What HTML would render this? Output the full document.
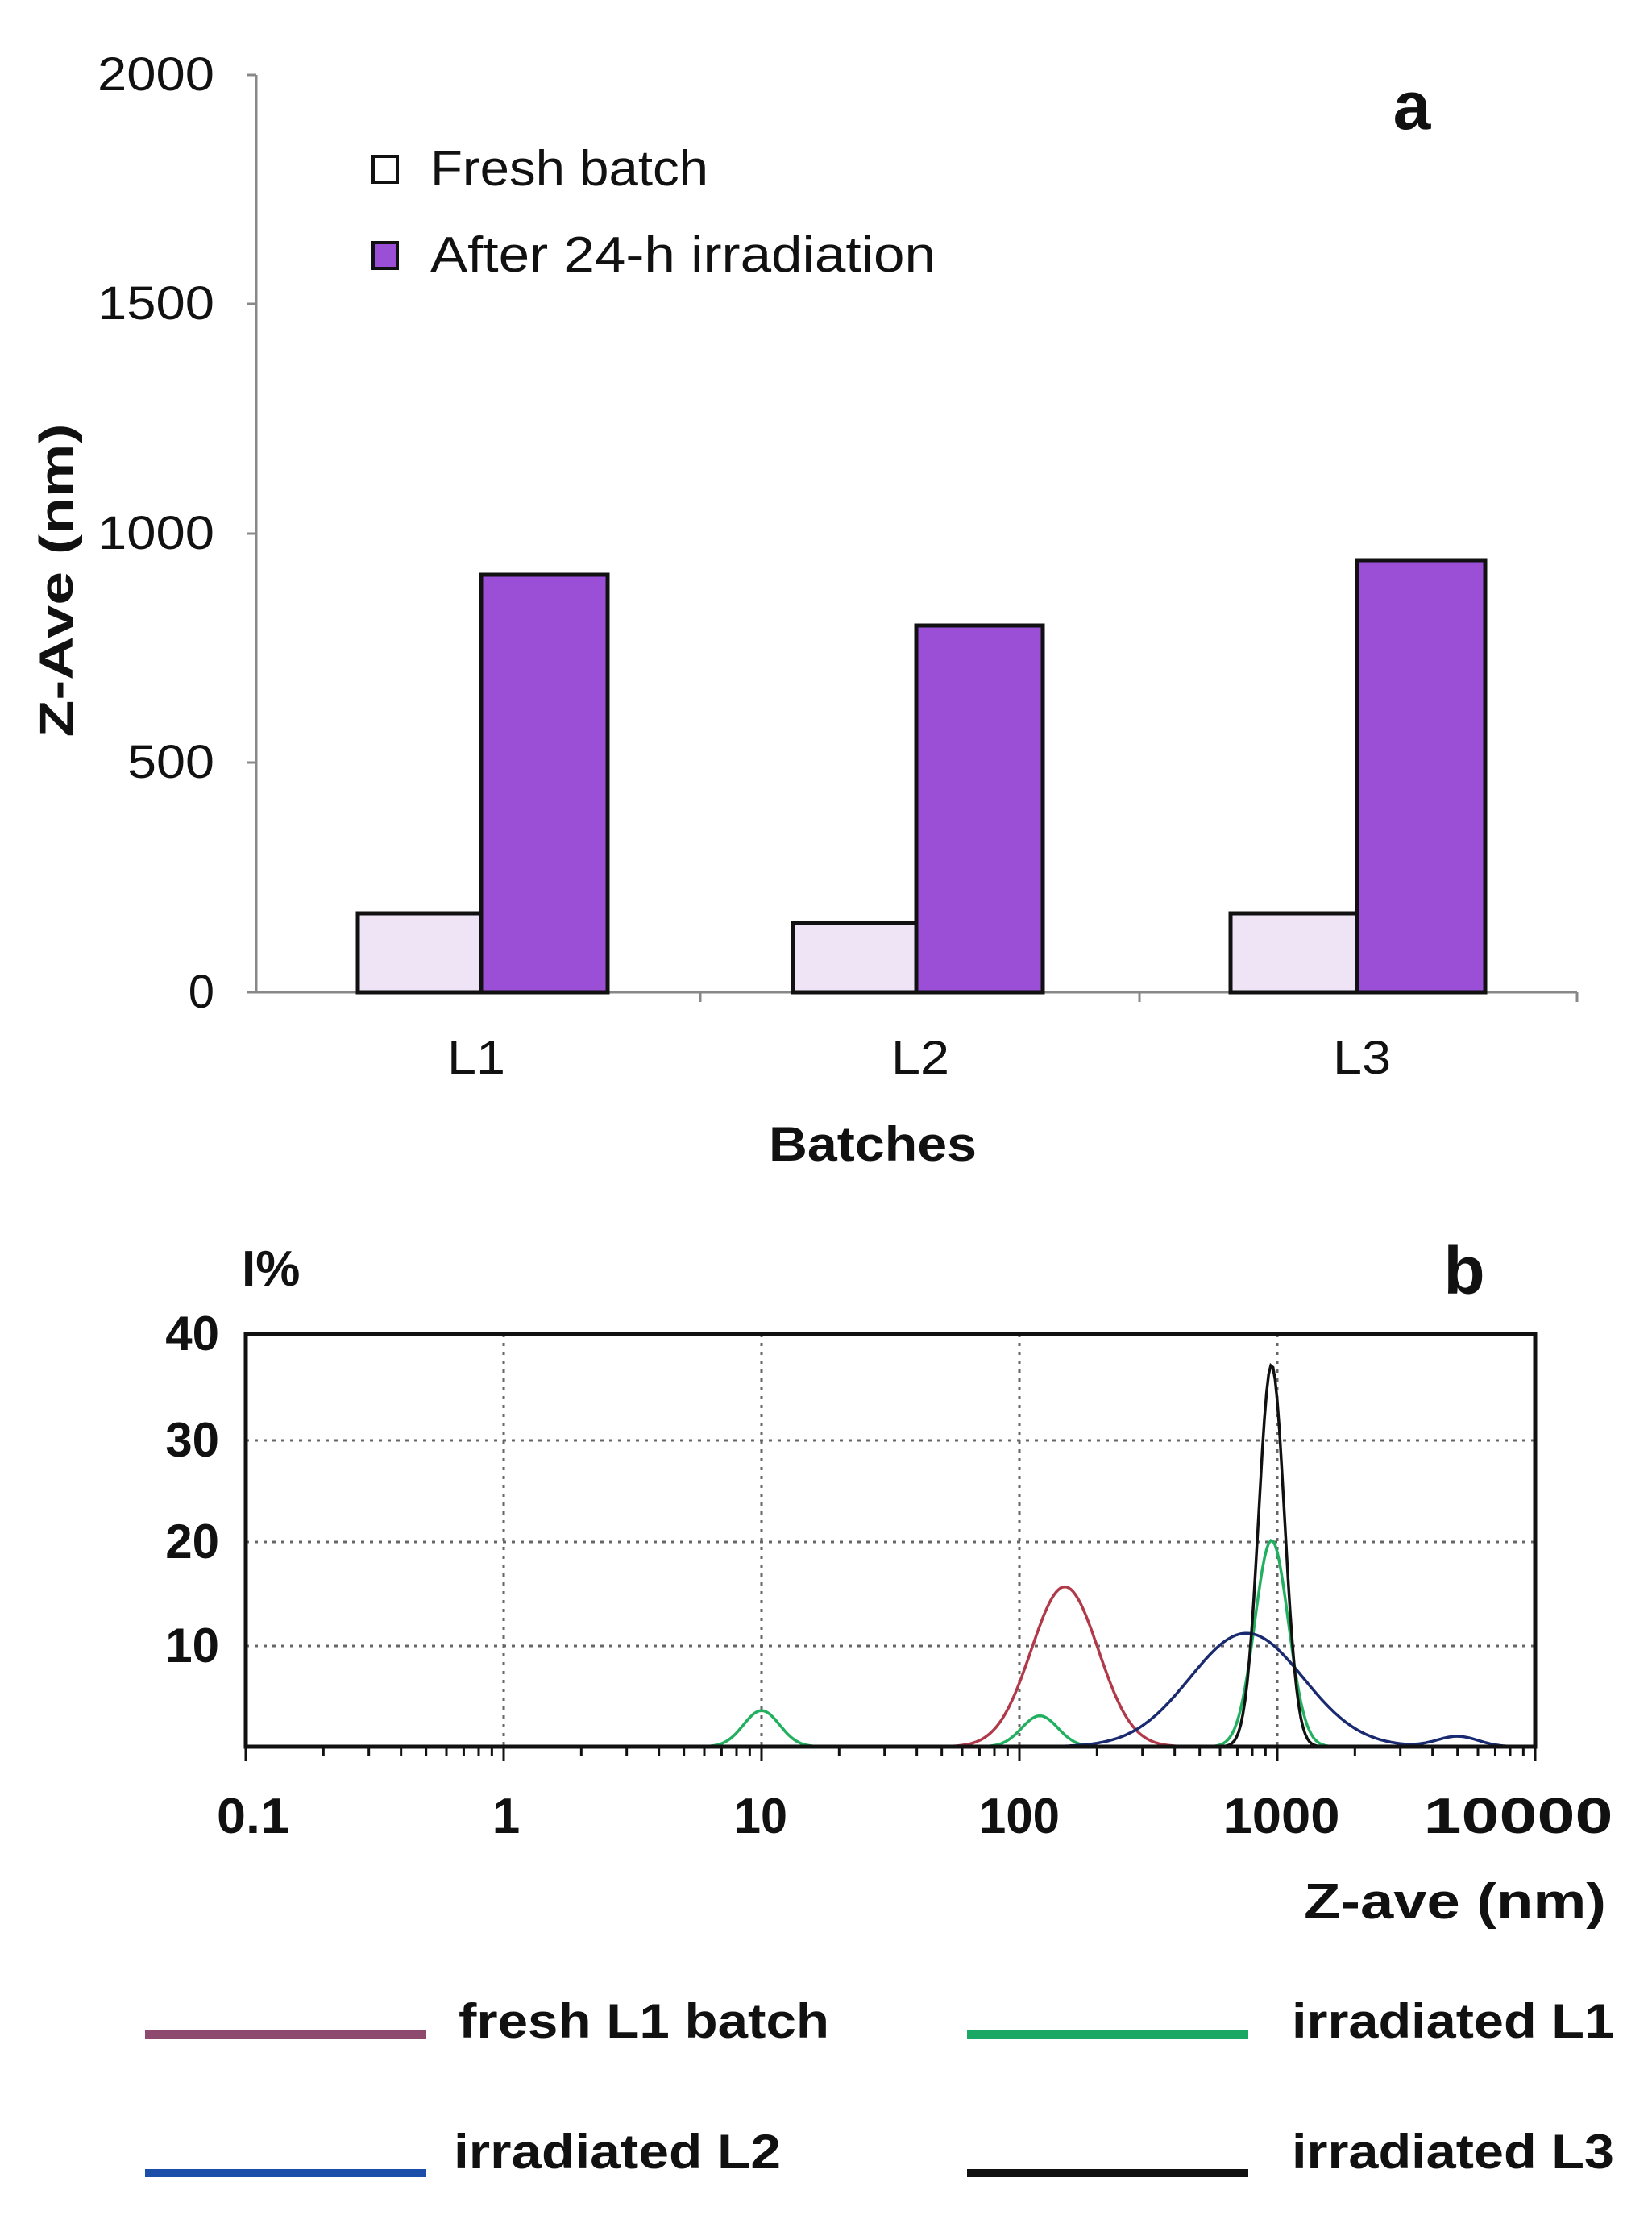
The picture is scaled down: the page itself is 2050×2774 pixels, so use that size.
<!DOCTYPE html>
<html><head><meta charset="utf-8"><style>
html,body{margin:0;padding:0;background:#fff}
svg{display:block}
text{font-family:"Liberation Sans",sans-serif}
</style></head><body>
<svg id="s" width="2050" height="2774" viewBox="0 0 2050 2774" xmlns="http://www.w3.org/2000/svg">
<!-- Panel a -->
<line x1="318" y1="93" x2="318" y2="1231" stroke="#888" stroke-width="3"/>
<line x1="318" y1="1231" x2="1957" y2="1231" stroke="#888" stroke-width="3"/>
<g stroke="#888" stroke-width="3">
<line x1="306" y1="93" x2="318" y2="93"/><line x1="306" y1="377" x2="318" y2="377"/><line x1="306" y1="662" x2="318" y2="662"/><line x1="306" y1="946" x2="318" y2="946"/><line x1="306" y1="1231" x2="318" y2="1231"/>
<line x1="869" y1="1231" x2="869" y2="1243"/><line x1="1414" y1="1231" x2="1414" y2="1243"/><line x1="1957" y1="1231" x2="1957" y2="1243"/>
</g>
<g font-size="58" text-anchor="end" fill="#111" lengthAdjust="spacingAndGlyphs">
<text x="266" y="112" textLength="145" lengthAdjust="spacingAndGlyphs">2000</text>
<text x="266" y="396" textLength="145" lengthAdjust="spacingAndGlyphs">1500</text>
<text x="266" y="681" textLength="145" lengthAdjust="spacingAndGlyphs">1000</text>
<text x="266" y="965" textLength="108" lengthAdjust="spacingAndGlyphs">500</text>
<text x="266" y="1250">0</text>
</g>
<text transform="translate(90,720) rotate(-90)" font-size="58" font-weight="bold" text-anchor="middle" fill="#111" textLength="389" lengthAdjust="spacingAndGlyphs">Z-Ave (nm)</text>
<g stroke="#111" stroke-width="5">
<rect x="444" y="1133" width="153" height="98" fill="#efe4f5"/>
<rect x="597" y="713" width="157" height="518" fill="#9b4fd6"/>
<rect x="984" y="1145" width="153" height="86" fill="#efe4f5"/>
<rect x="1137" y="776" width="157" height="455" fill="#9b4fd6"/>
<rect x="1527" y="1133" width="157" height="98" fill="#efe4f5"/>
<rect x="1684" y="695" width="159" height="536" fill="#9b4fd6"/>
</g>
<g font-size="58" text-anchor="middle" fill="#111">
<text x="591" y="1332" textLength="72" lengthAdjust="spacingAndGlyphs">L1</text>
<text x="1142" y="1332" textLength="72" lengthAdjust="spacingAndGlyphs">L2</text>
<text x="1690" y="1332" textLength="72" lengthAdjust="spacingAndGlyphs">L3</text>
</g>
<text x="1083" y="1440" font-size="60" font-weight="bold" text-anchor="middle" fill="#111" textLength="258" lengthAdjust="spacingAndGlyphs">Batches</text>
<text x="1752" y="160" font-size="84" font-weight="bold" text-anchor="middle" fill="#111">a</text>
<rect x="463" y="194" width="30" height="32" fill="#fff" stroke="#111" stroke-width="4"/>
<text x="534" y="230" font-size="62" fill="#111" textLength="345" lengthAdjust="spacingAndGlyphs">Fresh batch</text>
<rect x="463" y="301" width="30" height="32" fill="#9b4fd6" stroke="#111" stroke-width="4"/>
<text x="534" y="337" font-size="62" fill="#111" textLength="627" lengthAdjust="spacingAndGlyphs">After 24-h irradiation</text>

<!-- Panel b -->
<text x="300" y="1595" font-size="62" font-weight="bold" fill="#111">I%</text>
<text x="1817" y="1605" font-size="84" font-weight="bold" text-anchor="middle" fill="#111">b</text>
<g stroke="#666" stroke-width="3" stroke-dasharray="4,7">
<line x1="305" y1="1787" x2="1905" y2="1787"/><line x1="305" y1="1913" x2="1905" y2="1913"/><line x1="305" y1="2042" x2="1905" y2="2042"/>
<line x1="625" y1="1655" x2="625" y2="2167"/><line x1="945" y1="1655" x2="945" y2="2167"/><line x1="1265" y1="1655" x2="1265" y2="2167"/><line x1="1585" y1="1655" x2="1585" y2="2167"/>
</g>
<g id="ticks" stroke="#111" stroke-width="3"></g>
<g id="curves" fill="none" stroke-width="3.5"></g>
<rect x="305" y="1655" width="1600" height="512" fill="none" stroke="#111" stroke-width="5"/>
<g font-size="60" font-weight="bold" text-anchor="end" fill="#111">
<text x="272" y="1675">40</text><text x="272" y="1807">30</text><text x="272" y="1933">20</text><text x="272" y="2062">10</text>
</g>
<g font-size="62" font-weight="bold" text-anchor="middle" fill="#111">
<text x="314" y="2274" textLength="90" lengthAdjust="spacingAndGlyphs">0.1</text>
<text x="628" y="2274">1</text>
<text x="944" y="2274" textLength="66" lengthAdjust="spacingAndGlyphs">10</text>
<text x="1265" y="2274" textLength="100" lengthAdjust="spacingAndGlyphs">100</text>
<text x="1590" y="2274" textLength="145" lengthAdjust="spacingAndGlyphs">1000</text>
<text x="1884" y="2274" textLength="235" lengthAdjust="spacingAndGlyphs">10000</text>
</g>
<text x="1993" y="2380" font-size="62" font-weight="bold" text-anchor="end" fill="#111" textLength="375" lengthAdjust="spacingAndGlyphs">Z-ave (nm)</text>
<line x1="180" y1="2524" x2="529" y2="2524" stroke="#8e4a6e" stroke-width="10"/>
<text x="569" y="2528" font-size="60" font-weight="bold" fill="#111" textLength="460" lengthAdjust="spacingAndGlyphs">fresh L1 batch</text>
<line x1="1200" y1="2524" x2="1549" y2="2524" stroke="#1aa864" stroke-width="10"/>
<text x="1603" y="2528" font-size="60" font-weight="bold" fill="#111" textLength="400" lengthAdjust="spacingAndGlyphs">irradiated L1</text>
<line x1="180" y1="2696" x2="529" y2="2696" stroke="#1a4ea8" stroke-width="10"/>
<text x="563" y="2690" font-size="60" font-weight="bold" fill="#111" textLength="406" lengthAdjust="spacingAndGlyphs">irradiated L2</text>
<line x1="1200" y1="2696" x2="1549" y2="2696" stroke="#111" stroke-width="10"/>
<text x="1603" y="2690" font-size="60" font-weight="bold" fill="#111" textLength="400" lengthAdjust="spacingAndGlyphs">irradiated L3</text>
</svg>
<script>
(function(){
var NS="http://www.w3.org/2000/svg";
function px(x){return 305+320*(Math.log10(x)+1);}
function py(v){return 2167-12.8*v;}
var t=document.getElementById("ticks"),h="";
for(var d=-1;d<4;d++){for(var k=1;k<=10;k++){var x=px(k*Math.pow(10,d));var L=(k==1||k==10)?18:12;h+='<line x1="'+x+'" y1="2167" x2="'+x+'" y2="'+(2167+L)+'"/>';}}
t.innerHTML=h;
function curve(parts,color,lo,hi){
 var d="";for(var i=0;i<=600;i++){var lx=lo+(hi-lo)*i/600;var v=0;parts.forEach(function(p){v+=p[0]*Math.exp(-Math.pow(lx-Math.log10(p[1]),2)/(2*p[2]*p[2]));});
 var X=305+320*(lx+1);d+=(i?"L":"M")+X.toFixed(1)+","+py(v).toFixed(1);}
 var e=document.createElementNS(NS,"path");e.setAttribute("d",d);e.setAttribute("stroke",color);document.getElementById("curves").appendChild(e);}
curve([[15.5,150,0.13]],"#b03a4a",-1,4);
curve([[3.5,10,0.07],[3,120,0.07],[20,950,0.065]],"#22b060",-1,4);
curve([[11,760,0.22],[1,5000,0.08]],"#1a2a70",-1,4);
curve([[37,950,0.05]],"#111",-1,4);
})();
</script>
</body></html>
